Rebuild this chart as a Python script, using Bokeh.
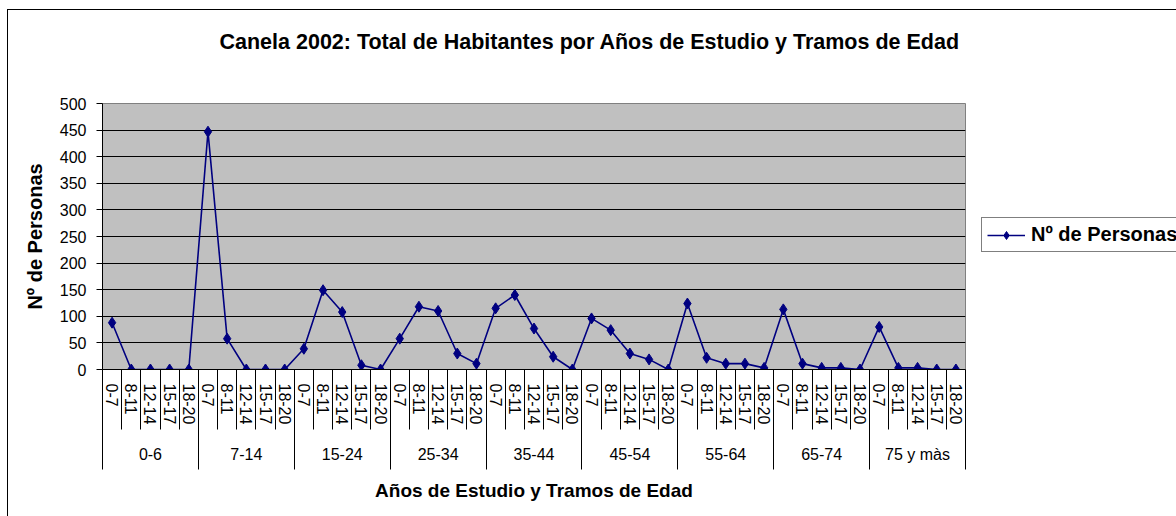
from bokeh.plotting import figure
from bokeh.layouts import row
from bokeh.models import (Range1d, LinearAxis, FixedTicker, SingleIntervalTicker,
                          ColumnDataSource, Legend, LegendItem, Title)
from bokeh.embed import file_html
from bokeh.resources import INLINE

# ---- data ----
groups = ["0-6", "7-14", "15-24", "25-34", "35-44", "45-54", "55-64", "65-74", "75 y màs"]
subs = ["0-7", "8-11", "12-14", "15-17", "18-20"]
v_0_6 = [88, 0, 0, 0, 0]
v_7_14 = [447, 58, 0, 0, 0]
v_15_24 = [39, 149, 108, 8, 0]
v_25_34 = [58, 118, 110, 30, 11]
v_35_44 = [115, 140, 77, 24, 0]
v_45_54 = [96, 74, 30, 19, 0]
v_55_64 = [124, 22, 11, 11, 3]
v_65_74 = [113, 11, 3, 3, 0]
v_75 = [80, 3, 3, 0, 0]
series_values = [v_0_6, v_7_14, v_15_24, v_25_34, v_35_44, v_45_54, v_55_64, v_65_74, v_75]
series_name = "Nº de Personas"
title_text = "Canela 2002: Total de Habitantes por Años de Estudio y Tramos de Edad"
x_title = "Años de Estudio y Tramos de Edad"
y_title = "Nº de Personas"

FONT = "Liberation Sans"
LINE_COLOR = "#000080"
n_sub = len(subs)
n = len(groups) * n_sub

xs, ys, sub_labels = [], [], []
for gi, vals in enumerate(series_values):
    for si, v in enumerate(vals):
        xs.append(gi * n_sub + si + 0.5)
        ys.append(v)
        sub_labels.append(subs[si])
src = ColumnDataSource(dict(x=xs, y=ys))

p = figure(width=965, height=506, x_range=Range1d(0, n), y_range=Range1d(0, 500),
           x_axis_type=None, output_backend="svg", toolbar_location=None,
           background_fill_color="#C0C0C0", border_fill_color="white",
           min_border_left=94, min_border_right=8, min_border_top=93,
           min_border_bottom=147)
p.outline_line_color = "#808080"

# title (spacer closest to the frame, then the real title)
spacer_top = Title(text=" ", text_font_size="1px", standoff=42)
p.add_layout(spacer_top, "above")
main_title = Title(text=title_text, text_font=FONT, text_font_size="21.5px",
                   text_font_style="bold", text_color="black",
                   align="left", offset=117, standoff=10)
p.add_layout(main_title, "above")

# y axis
ya = p.yaxis[0]
ya.ticker = SingleIntervalTicker(interval=50, num_minor_ticks=0)
ya.axis_line_color = "black"
ya.major_tick_line_color = "black"
ya.major_tick_out = 6
ya.major_tick_in = 0
ya.minor_tick_line_color = None
ya.major_label_text_font = FONT
ya.major_label_text_font_size = "16px"
ya.major_label_text_color = "black"
ya.major_label_standoff = 10
ya.axis_label = y_title
ya.axis_label_text_font = FONT
ya.axis_label_text_font_size = "20px"
ya.axis_label_text_font_style = "bold"
ya.axis_label_text_color = "black"
ya.axis_label_standoff = 11

p.ygrid.grid_line_color = "black"
p.ygrid.grid_line_width = 1
p.ygrid.ticker = ya.ticker

# x axis 1: sub-category labels
centers = [i + 0.5 for i in range(n)]
bounds = [float(i) for i in range(n + 1)]
ax1 = LinearAxis(ticker=FixedTicker(ticks=centers, minor_ticks=bounds))
ax1.major_label_overrides = {c: lab for c, lab in zip(centers, sub_labels)}
ax1.axis_line_color = "black"
ax1.major_tick_out = 0
ax1.major_tick_in = 0
ax1.major_tick_line_color = None
ax1.minor_tick_out = 0
ax1.minor_tick_in = -60
ax1.minor_tick_line_color = "black"
ax1.major_label_orientation = "vertical"
ax1.major_label_text_font = FONT
ax1.major_label_text_font_size = "16px"
ax1.major_label_text_color = "black"
ax1.major_label_standoff = 14
p.add_layout(ax1, "below")

# x axis 2: group labels
gcenters = [gi * n_sub + n_sub / 2 for gi in range(len(groups))]
gbounds = [float(gi * n_sub) for gi in range(len(groups) + 1)]
ax2 = LinearAxis(ticker=FixedTicker(ticks=gcenters, minor_ticks=gbounds))
ax2.major_label_overrides = {c: g for c, g in zip(gcenters, groups)}
ax2.axis_line_color = None
ax2.major_tick_out = 0
ax2.major_tick_in = 0
ax2.major_tick_line_color = None
ax2.minor_tick_out = 0
ax2.minor_tick_in = -42
ax2.minor_tick_line_color = "black"
ax2.major_label_text_font = FONT
ax2.major_label_text_font_size = "16px"
ax2.major_label_text_color = "black"
ax2.major_label_standoff = 18
ax2.axis_label = x_title
ax2.axis_label_text_font = FONT
ax2.axis_label_text_font_size = "19px"
ax2.axis_label_text_font_style = "bold"
ax2.axis_label_text_color = "black"
ax2.axis_label_standoff = 14
p.add_layout(ax2, "below")

p.line("x", "y", source=src, line_color=LINE_COLOR, line_width=1.6)
p.scatter("x", "y", source=src, marker="diamond", size=11,
          fill_color=LINE_COLOR, line_color=LINE_COLOR)

# legend panel to the right of the chart (its renderers use the same data,
# but its ranges keep them out of view so only the legend shows)
q = figure(width=203, height=506, x_range=Range1d(-3, -2), y_range=Range1d(-3, -2),
           x_axis_type=None, y_axis_type=None, output_backend="svg",
           toolbar_location=None, min_border=0, outline_line_color=None,
           background_fill_color="white", border_fill_color="white")
q.xgrid.visible = False
q.ygrid.visible = False
leg_line = q.line("x", "y", source=src, line_color=LINE_COLOR, line_width=1.6)
leg_pts = q.scatter("x", "y", source=src, marker="diamond", size=11,
                    fill_color=LINE_COLOR, line_color=LINE_COLOR)
legend = Legend(items=[LegendItem(label=series_name, renderers=[leg_line, leg_pts])],
                location=(8, 117), margin=0, padding=5, spacing=0,
                glyph_width=38, label_standoff=6,
                border_line_color="black", border_line_width=1,
                background_fill_color="white", background_fill_alpha=1,
                label_text_font=FONT, label_text_font_size="20px",
                label_text_font_style="bold", label_text_color="black")
q.add_layout(legend, "center")

layout = row(p, q, spacing=0)
layout.styles = {"margin-left": "8px", "margin-top": "10px",
                 "outline": "1px solid #000000"}

open("out.html", "w").write(file_html(layout, INLINE))
